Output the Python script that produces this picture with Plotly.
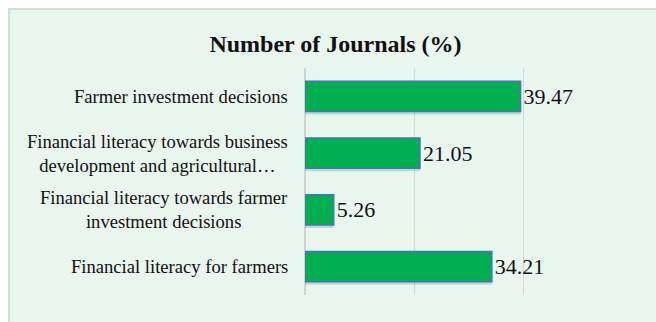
import plotly.graph_objects as go

# Share of journals per research theme
categories = [
    "Farmer investment decisions",
    "Financial literacy towards business<br>development and agricultural…",
    "Financial literacy towards farmer<br>investment decisions",
    "Financial literacy for farmers",
]
values = [39.47, 21.05, 5.26, 34.21]
value_labels = ["39.47", "21.05", "5.26", "34.21"]
title_text = "Number of Journals (%)"

W, H = 656, 322
L, R, T, B = 305, 23, 68, 27
plot_w = W - L - R
plot_h = H - T - B

SERIF = "Liberation Serif, Times New Roman, serif"
BAR_W = 0.53

fig = go.Figure()

# soft drop shadow under each bar
fig.add_trace(go.Bar(
    y=categories, x=values, orientation="h",
    width=BAR_W, offset=-BAR_W / 2 + 0.055,
    marker=dict(color="rgba(60,60,60,0.18)", line=dict(width=0)),
    hoverinfo="skip", showlegend=False,
))

fig.add_trace(go.Bar(
    y=categories, x=values, orientation="h",
    width=BAR_W, offset=-BAR_W / 2,
    marker=dict(color="#00B050", line=dict(color="#4472C4", width=1.5)),
    text=value_labels, textposition="outside",
    textfont=dict(family=SERIF, size=22, color="#111111"),
    cliponaxis=False, showlegend=False,
))

# category labels, right aligned to the axis with centred lines
for cat in categories:
    fig.add_annotation(
        x=0, y=cat, xref="x", yref="y",
        text=cat, showarrow=False,
        xanchor="right", yanchor="middle", align="center",
        xshift=-15,
        font=dict(family=SERIF, size=18.6, color="#111111"),
    )

# light green chart panel with a grey border
def px_x(p):
    return (p - L) / plot_w

def px_y(p):
    return (H - B - p) / plot_h

fig.add_shape(
    type="rect", xref="paper", yref="paper", layer="below",
    x0=px_x(9), x1=px_x(W + 40), y0=px_y(H + 40), y1=px_y(9),
    fillcolor="#E8F6EE", line=dict(color="#D9D9D9", width=2),
)

fig.update_layout(
    width=W, height=H,
    margin=dict(l=L, r=R, t=T, b=B, pad=0),
    paper_bgcolor="white",
    plot_bgcolor="rgba(0,0,0,0)",
    barmode="overlay",
    title=dict(
        text=title_text, x=335.5 / W, xanchor="center",
        y=1 - 44 / H, yanchor="middle",
        font=dict(family=SERIF, size=24, color="#111111", weight="bold"),
    ),
    xaxis=dict(
        range=[0, 60.05], dtick=20, showticklabels=False, ticks="",
        showgrid=True, gridcolor="#D6D6D6", gridwidth=1.3,
        zeroline=True, zerolinecolor="#D2D2D2", zerolinewidth=2,
        showline=False, fixedrange=True,
    ),
    yaxis=dict(
        autorange="reversed", showticklabels=False, ticks="",
        showgrid=False, zeroline=False, showline=False, fixedrange=True,
    ),
)

fig.write_html("out.html")
